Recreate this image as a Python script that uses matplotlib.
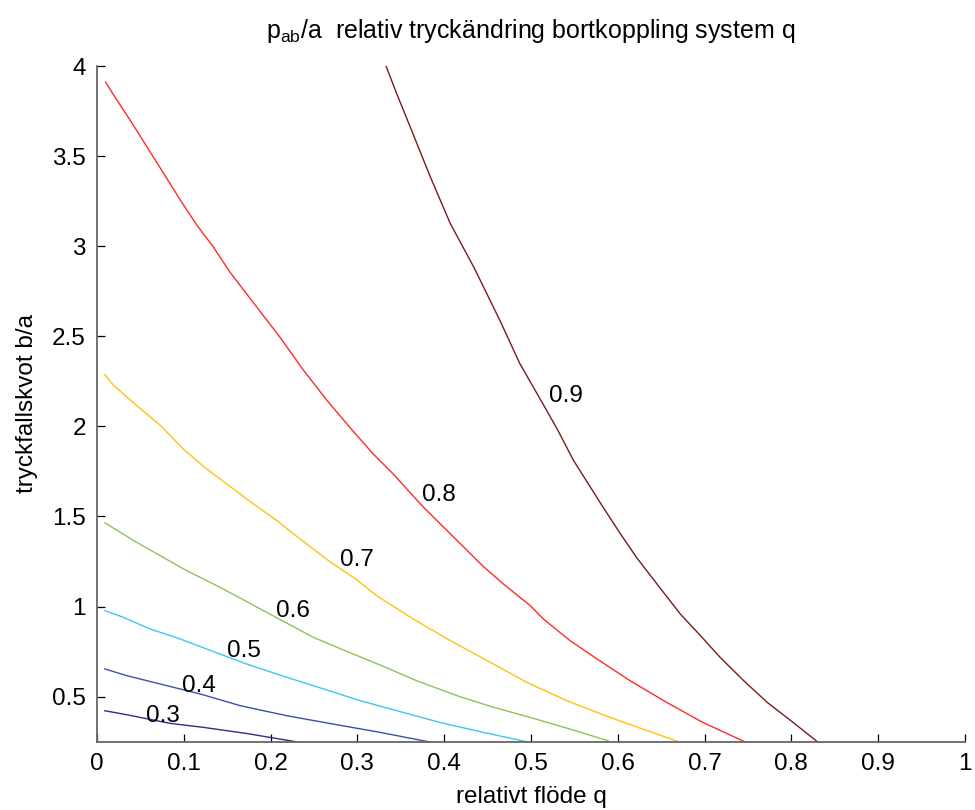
import matplotlib
matplotlib.use("Agg")
import matplotlib.pyplot as plt

plt.rcParams['font.family'] = ['Liberation Sans', 'DejaVu Sans']

# nivåer och färger
nivaer = [0.3, 0.4, 0.5, 0.6, 0.7, 0.8, 0.9]
farger = ['#2b2f86', '#3a4fa8', '#3fc6ee', '#8dc35a', '#ffc20e', '#ff2a2a', '#7a1a1a']

# avlästa konturkurvor (q, b/a)
q_03 = [0.009, 0.034, 0.084, 0.122, 0.172, 0.234]
b_03 = [0.422, 0.400, 0.352, 0.330, 0.296, 0.246]

q_04 = [0.009, 0.034, 0.073, 0.119, 0.165, 0.219, 0.272, 0.326, 0.386]
b_04 = [0.654, 0.617, 0.570, 0.515, 0.450, 0.394, 0.348, 0.302, 0.246]

q_05 = [0.009, 0.030, 0.061, 0.096, 0.126, 0.172, 0.219, 0.261, 0.303, 0.338, 0.395, 0.445, 0.499]
b_05 = [0.978, 0.941, 0.876, 0.820, 0.765, 0.682, 0.607, 0.543, 0.478, 0.432, 0.357, 0.302, 0.246]

q_06 = [0.009, 0.042, 0.069, 0.103, 0.134, 0.160, 0.180, 0.207, 0.249, 0.291, 0.330,
        0.368, 0.418, 0.457, 0.499, 0.545, 0.589]
b_06 = [1.465, 1.367, 1.293, 1.200, 1.126, 1.060, 1.008, 0.938, 0.830, 0.745, 0.668,
        0.589, 0.500, 0.441, 0.385, 0.320, 0.255]

q_07 = [0.009, 0.019, 0.050, 0.073, 0.099, 0.126, 0.149, 0.180, 0.207, 0.230, 0.268,
        0.299, 0.322, 0.364, 0.407, 0.453, 0.495, 0.541, 0.591, 0.629, 0.670]
b_07 = [2.287, 2.228, 2.098, 2.006, 1.876, 1.765, 1.682, 1.570, 1.478, 1.390, 1.250,
        1.150, 1.061, 0.932, 0.811, 0.691, 0.580, 0.478, 0.385, 0.320, 0.250]

q_08 = [0.010, 0.019, 0.032, 0.046, 0.061, 0.076, 0.096, 0.115, 0.134, 0.153, 0.182,
        0.210, 0.238, 0.265, 0.291, 0.318, 0.341, 0.376, 0.407, 0.445, 0.468, 0.499,
        0.514, 0.545, 0.579, 0.614, 0.656, 0.698, 0.748]
b_08 = [3.910, 3.840, 3.745, 3.640, 3.525, 3.410, 3.256, 3.117, 2.996, 2.857, 2.675,
        2.500, 2.311, 2.144, 1.996, 1.848, 1.737, 1.552, 1.404, 1.223, 1.126, 1.006,
        0.932, 0.811, 0.700, 0.589, 0.469, 0.357, 0.246]

q_09 = [0.333, 0.345, 0.361, 0.384, 0.407, 0.434, 0.464, 0.487, 0.518, 0.531, 0.549,
        0.583, 0.603, 0.622, 0.651, 0.672, 0.695, 0.718, 0.745, 0.772, 0.802, 0.831]
b_09 = [4.000, 3.850, 3.660, 3.385, 3.126, 2.885, 2.590, 2.350, 2.089, 1.978, 1.811,
        1.552, 1.404, 1.270, 1.089, 0.959, 0.840, 0.718, 0.589, 0.469, 0.357, 0.246]

kurvor = [(q_03, b_03), (q_04, b_04), (q_05, b_05), (q_06, b_06),
          (q_07, b_07), (q_08, b_08), (q_09, b_09)]

# etiketternas lägen
etikett_q = [0.076, 0.118, 0.169, 0.226, 0.299, 0.394, 0.540]
etikett_b = [0.391, 0.561, 0.756, 0.974, 1.256, 1.620, 2.168]

fig = plt.figure(figsize=(9.75, 8.1), dpi=100)
ax = fig.add_axes([0.0995, 0.0843, 0.8902, 0.8342])

for (q, b), f in zip(kurvor, farger):
    ax.plot(q, b, color=f, linewidth=1.0)

for n, x, y in zip(nivaer, etikett_q, etikett_b):
    ax.text(x, y, f"{n:g}", fontsize=17.5, ha='center', va='center')

ax.set_xlim(0, 1)
ax.set_ylim(0.25, 4)
ax.set_xticks([i / 10 for i in range(11)])
ax.set_xticklabels(["0"] + [f"{i / 10:g}" for i in range(1, 10)] + ["1"])
ax.set_yticks([0.5, 1, 1.5, 2, 2.5, 3, 3.5, 4])
ax.set_yticklabels(["0.5", "1", "1.5", "2", "2.5", "3", "3.5", "4"])

ax.spines['top'].set_visible(False)
ax.spines['right'].set_visible(False)
for s in ['left', 'bottom']:
    ax.spines[s].set_color('#666666')
    ax.spines[s].set_linewidth(1.3)
ax.tick_params(direction='in', length=6, width=0.9, color='black', labelsize=17.5, pad=8)

ax.set_xlabel("relativt flöde q", fontsize=17.5, labelpad=8)
ax.set_ylabel("tryckfallskvot b/a", fontsize=17.5, labelpad=10)
ax.set_title(r"$\mathregular{p_{ab}}$/a  relativ tryckändring bortkoppling system q",
             fontsize=18, pad=20)

fig.savefig("out.png", dpi=100)
